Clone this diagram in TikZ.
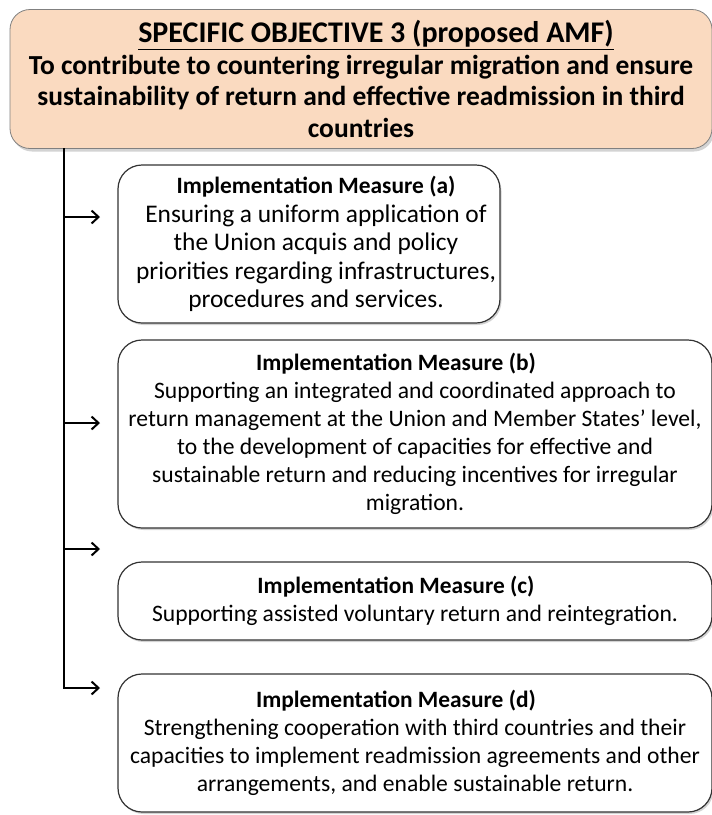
\documentclass[tikz,border=0pt]{standalone}
\usepackage{fontspec}
\setmainfont{Carlito}
\usetikzlibrary{shadows, arrows.meta}
\definecolor{peach}{RGB}{250,218,192}
\newcommand{\headfont}{\fontsize{23.4}{28}\selectfont\bfseries}
\newcommand{\titlefont}{\fontsize{30}{31.5}\selectfont\bfseries}
\tikzset{
	objbox/.style={draw=black!50, line width=0.8pt, fill=peach, rounded corners=20pt, align=center, inner sep=0pt,
		font=\fontsize{27.5}{31.5}\selectfont\bfseries, drop shadow={shadow xshift=2pt, shadow yshift=-3pt, opacity=0.35}},
	measure/.style={draw=black!80, line width=1.2pt, fill=white, rounded corners=24pt, align=center, inner sep=0pt,
		font=\fontsize{23.6}{28}\selectfont, drop shadow={shadow xshift=1.5pt, shadow yshift=-2pt, opacity=0.35}},
	conn/.style={line width=2pt, -{Straight Barb[length=7pt, width=13pt, line width=2pt]}},
}
\begin{document}
\begin{tikzpicture}[x=1pt, y=-1pt]
		
		\useasboundingbox (0,0) rectangle (712,815);
		
		% Objective
		\node[objbox, minimum width=702, minimum height=139] (obj) at (361,79)
			{\hspace*{30pt}{\titlefont\underline{SPECIFIC OBJECTIVE 3 (proposed AMF)}}\\
			To contribute to countering irregular migration and ensure\\
			sustainability of return and effective readmission in third\\
			countries};
		
		% Measures
		\node[measure, minimum width=382, minimum height=158, font=\fontsize{25.4}{28.5}\selectfont] (ma) at (309,244)
			{\hspace*{14pt}{\headfont Implementation Measure (a)}\\
			\hspace*{14pt}Ensuring a uniform application of\\
			\hspace*{14pt}the Union acquis and policy\\
			\hspace*{14pt}priorities regarding infrastructures,\\
			\hspace*{14pt}procedures and services.};
		
		\node[measure, minimum width=594, minimum height=188] (mb) at (415,434)
			{{\headfont Implementation Measure (b)}\hspace*{38pt}\\
			Supporting an integrated and coordinated approach to\\
			return management at the Union and Member States' level,\\
			to the development of capacities for effective and\\
			sustainable return and reducing incentives for irregular\\
			migration.};
		
		\node[measure, minimum width=594, minimum height=78] (mc) at (415,601)
			{{\headfont Implementation Measure (c)}\hspace*{38pt}\\
			Supporting assisted voluntary return and reintegration.};
		
		\node[measure, minimum width=594, minimum height=138] (md) at (415,743)
			{{\headfont Implementation Measure (d)}\hspace*{38pt}\\
			Strengthening cooperation with third countries and their\\
			capacities to implement readmission agreements and other\\
			arrangements, and enable sustainable return.};
		
		% Arrows
		\coordinate (top) at (64,148);
		\coordinate (ea) at (100,217);
		\coordinate (eb) at (100,423);
		\coordinate (ec) at (100,549);
		\coordinate (ed) at (100,688);
		
		\draw[conn] (top) |- (ed);
		\draw[conn] (top |- ea) -- (ea);
		\draw[conn] (top |- eb) -- (eb);
		\draw[conn] (top |- ec) -- (ec);
		
		\end{tikzpicture}
\end{document}
